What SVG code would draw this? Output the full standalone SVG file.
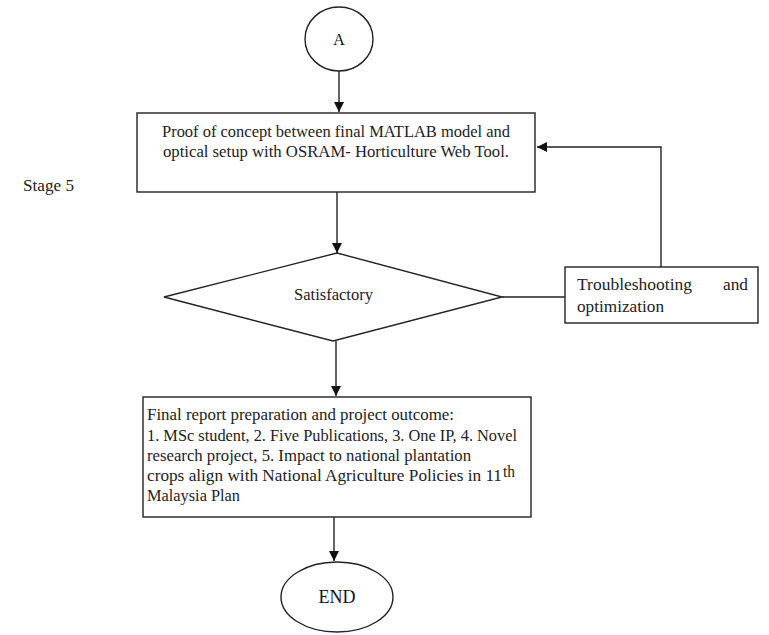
<svg xmlns="http://www.w3.org/2000/svg" width="769" height="635" viewBox="0 0 769 635">
<style>
.s{fill:#fff;stroke:#222;stroke-width:1.4}
.c{fill:none;stroke:#222;stroke-width:1.4}
.t{font-family:"Liberation Serif","Times New Roman",serif;font-size:16px;fill:#222}
.tt{font-family:"Liberation Serif","Times New Roman",serif;fill:#111}
</style>
<defs>
<marker id="ar" viewBox="0 0 10 10" refX="10" refY="5" markerWidth="10" markerHeight="10" markerUnits="userSpaceOnUse" orient="auto">
<path d="M0,0 L10,5 L0,10 z" fill="#111"/>
</marker>
</defs>
<rect width="769" height="635" fill="#fff"/>
<g id="connectors">
<line class="c" x1="339" y1="71" x2="339" y2="112" marker-end="url(#ar)"/>
<line class="c" x1="337" y1="192" x2="337" y2="253" marker-end="url(#ar)"/>
<line class="c" x1="502" y1="297" x2="565" y2="297"/>
<polyline class="c" points="661,267 661,147 537,147" marker-end="url(#ar)"/>
<line class="c" x1="336" y1="341" x2="336" y2="396" marker-end="url(#ar)"/>
<line class="c" x1="334" y1="517" x2="334" y2="561" marker-end="url(#ar)"/>
</g>
<g id="nodeA">
<ellipse class="s" cx="339" cy="39" rx="34" ry="32"/>
<text class="tt" x="339" y="45" font-size="16" text-anchor="middle">A</text>
</g>
<g id="stage">
<text class="t" x="23" y="191" textLength="51" lengthAdjust="spacingAndGlyphs">Stage 5</text>
</g>
<g id="proof">
<rect class="s" x="137" y="113" width="398" height="79"/>
<text class="t" x="162" y="137" textLength="348" lengthAdjust="spacingAndGlyphs">Proof of concept between final MATLAB model and</text>
<text class="t" x="163" y="157" textLength="346" lengthAdjust="spacingAndGlyphs">optical setup with OSRAM- Horticulture Web Tool.</text>
</g>
<g id="satisfactory">
<polygon class="s" points="337,253 502,297 333,341 164,297"/>
<text class="t" x="294" y="300" textLength="79" lengthAdjust="spacingAndGlyphs">Satisfactory</text>
</g>
<g id="trouble">
<rect class="s" x="565" y="267" width="193" height="56"/>
<text class="t" x="577" y="290" textLength="115" lengthAdjust="spacingAndGlyphs">Troubleshooting</text>
<text class="t" x="723" y="290" textLength="25" lengthAdjust="spacingAndGlyphs">and</text>
<text class="t" x="577" y="312" textLength="87" lengthAdjust="spacingAndGlyphs">optimization</text>
</g>
<g id="final">
<rect class="s" x="143" y="397" width="388" height="120"/>
<text class="t" x="147" y="420" textLength="307" lengthAdjust="spacingAndGlyphs">Final report preparation and project outcome:</text>
<text class="t" x="147" y="441" textLength="370" lengthAdjust="spacingAndGlyphs">1. MSc student, 2. Five Publications, 3. One IP, 4. Novel</text>
<text class="t" x="147" y="461" textLength="324" lengthAdjust="spacingAndGlyphs">research project, 5. Impact to national plantation</text>
<text class="t" x="147" y="481" textLength="355" lengthAdjust="spacingAndGlyphs">crops align with National Agriculture Policies in 11</text>
<text class="t" x="503" y="477" font-size="9" textLength="12" lengthAdjust="spacingAndGlyphs">th</text>
<text class="t" x="147" y="501" textLength="93" lengthAdjust="spacingAndGlyphs">Malaysia Plan</text>
</g>
<g id="end">
<ellipse class="s" cx="337" cy="597" rx="56" ry="35"/>
<text class="tt" x="337" y="603" font-size="18" text-anchor="middle">END</text>
</g>
</svg>
